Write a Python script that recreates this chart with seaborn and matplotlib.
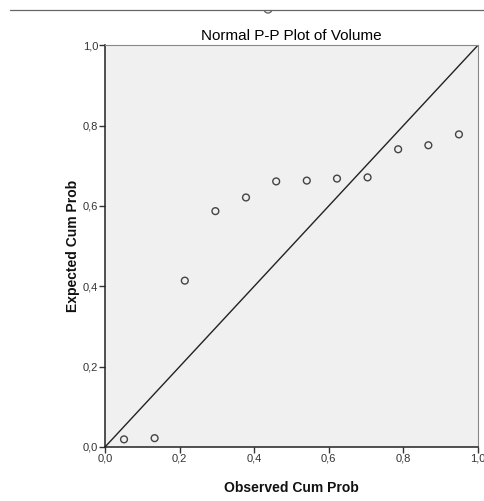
import matplotlib

matplotlib.use("Agg")

import matplotlib.pyplot as plt
import pandas as pd
import seaborn as sns
from matplotlib.lines import Line2D
from matplotlib.patches import Arc

observed = [0.051, 0.133, 0.214, 0.296, 0.378, 0.459, 0.541, 0.622, 0.704, 0.786, 0.867, 0.949]
expected = [0.019, 0.022, 0.414, 0.587, 0.621, 0.661, 0.663, 0.668, 0.671, 0.741, 0.751, 0.778]
tick_values = [0.0, 0.2, 0.4, 0.6, 0.8, 1.0]
tick_labels = ["0,0", "0,2", "0,4", "0,6", "0,8", "1,0"]

points = pd.DataFrame({"observed": observed, "expected": expected})

sns.set_style("white")
plt.rcParams["font.family"] = ["Liberation Sans", "DejaVu Sans"]

fig = plt.figure(figsize=(4.85, 5.01), dpi=100)
ax = fig.add_axes([0.2165, 0.1078, 0.769, 0.802])
ax.set_facecolor("#f0f0f0")

ax.axline((0, 0), slope=1, color="#222222", linewidth=1.0)
sns.scatterplot(
    data=points,
    x="observed",
    y="expected",
    ax=ax,
    marker="o",
    s=24,
    facecolor="none",
    edgecolor="#444444",
    linewidth=1.0,
)

ax.set_xlim(0, 1)
ax.set_ylim(0, 1)
ax.set_xticks(tick_values)
ax.set_xticklabels(tick_labels)
ax.set_yticks(tick_values)
ax.set_yticklabels(tick_labels)
ax.tick_params(axis="both", direction="out", length=4, width=1, color="#333333",
               labelsize=8, labelcolor="#333333", pad=1, bottom=True, left=True)

for side in ["left", "bottom"]:
    ax.spines[side].set_color("#222222")
    ax.spines[side].set_linewidth(1.1)
for side in ["top", "right"]:
    ax.spines[side].set_color("#888888")
    ax.spines[side].set_linewidth(0.8)

ax.set_xlabel("Observed Cum Prob", fontsize=10, fontweight="bold", labelpad=12, color="#111111")
ax.set_ylabel("Expected Cum Prob", fontsize=10, fontweight="bold", labelpad=2, color="#111111")
ax.set_title("Normal P-P Plot of Volume", fontsize=11, fontweight="medium", pad=4, color="#000000")

# frame line across the top of the output window
fig.add_artist(Line2D([10 / 485, 1.0], [1 - 10 / 501, 1 - 10 / 501],
                      transform=fig.transFigure, color="#666666", linewidth=0.9))
fig.add_artist(Arc((268 / 485, 1 - 9 / 501), 8 / 485, 8 / 501, theta1=200, theta2=340,
                   transform=fig.transFigure, color="#666666", linewidth=1.0))

fig.savefig("out.png", dpi=100)
plt.close(fig)
